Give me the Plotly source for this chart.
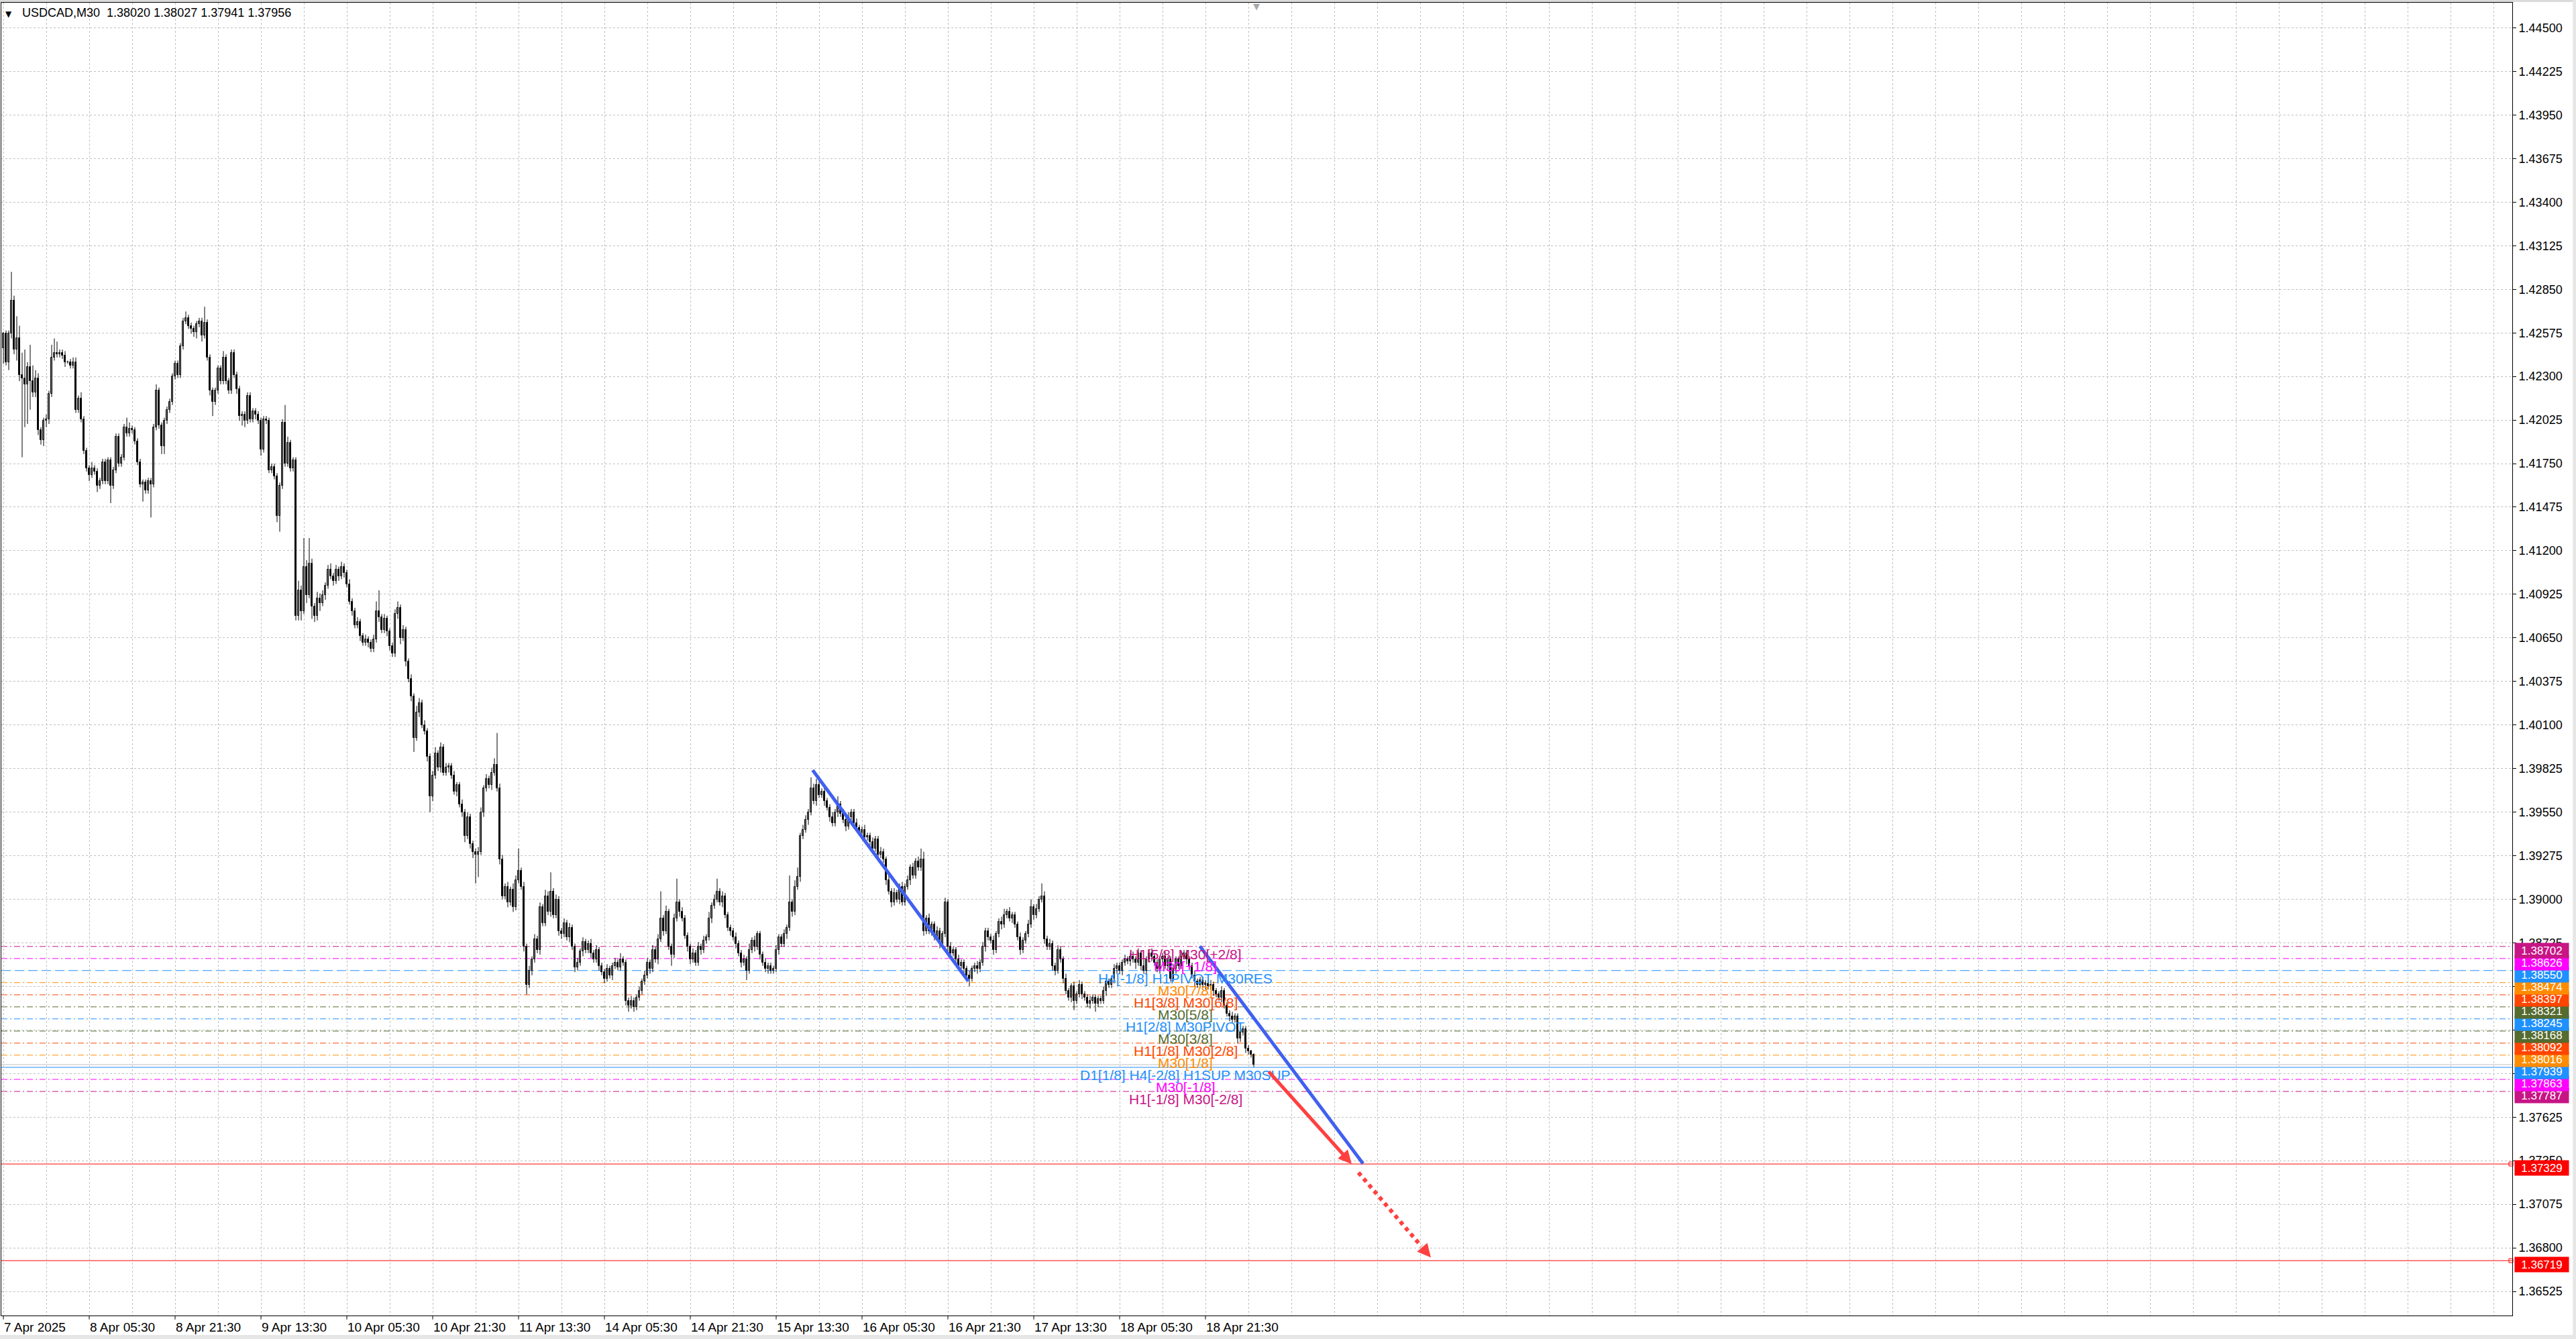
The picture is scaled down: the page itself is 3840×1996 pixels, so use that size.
import plotly.graph_objects as go

# ---------------- DATA ----------------
symbol_header = "USDCAD,M30  1.38020 1.38027 1.37941 1.37956"
first_open = 1.4248

closes = [
    1.4257, 1.4239, 1.4257, 1.4278, 1.4247, 1.4254, 1.4231, 1.4229, 1.4225, 1.4236, 1.4227, 1.4220, 1.4229, 1.4196, 1.4190, 1.4202,
    1.4203, 1.4219, 1.4242, 1.4245, 1.4244, 1.4245, 1.4243, 1.4239, 1.4239, 1.4237, 1.4239, 1.4209, 1.4216, 1.4203, 1.4183, 1.4172,
    1.4168, 1.4172, 1.4170, 1.4161, 1.4164, 1.4176, 1.4164, 1.4177, 1.4161, 1.4171, 1.4192, 1.4175, 1.4179, 1.4198, 1.4194, 1.4197,
    1.4196, 1.4189, 1.4176, 1.4162, 1.4163, 1.4158, 1.4164, 1.4162, 1.4198, 1.4221, 1.4199, 1.4186, 1.4202, 1.4209, 1.4214, 1.4230,
    1.4238, 1.4231, 1.4249, 1.4265, 1.4267, 1.4262, 1.4260, 1.4258, 1.4263, 1.4265, 1.4256, 1.4264, 1.4242, 1.4221, 1.4214, 1.4221,
    1.4235, 1.4227, 1.4242, 1.4227, 1.4221, 1.4245, 1.4231, 1.4222, 1.4205, 1.4206, 1.4202, 1.4218, 1.4203, 1.4208, 1.4206, 1.4202,
    1.4184, 1.4203, 1.4202, 1.4171, 1.4173, 1.4167, 1.4142, 1.4161, 1.4201, 1.4175, 1.4188, 1.4172, 1.4177, 1.4079, 1.4095, 1.4082,
    1.4110, 1.4092, 1.4112, 1.4085, 1.4079, 1.4090, 1.4087, 1.4092, 1.4098, 1.4108, 1.4104, 1.4101, 1.4108, 1.4104, 1.4110, 1.4106,
    1.4099, 1.4088, 1.4082, 1.4073, 1.4075, 1.4066, 1.4062, 1.4064, 1.4062, 1.4058, 1.4064, 1.4082, 1.4078, 1.4070, 1.4077, 1.4069,
    1.4060, 1.4055, 1.4080, 1.4084, 1.4065, 1.4070, 1.4050, 1.4039, 1.4028, 1.4002, 1.4018, 1.4024, 1.4010, 1.4006, 1.3990, 1.3965,
    1.3978, 1.3992, 1.3983, 1.3996, 1.3980, 1.3983, 1.3984, 1.3978, 1.3968, 1.3972, 1.3960, 1.3955, 1.3940, 1.3952, 1.3935, 1.3930,
    1.3928, 1.3930, 1.3955, 1.3970, 1.3976, 1.3972, 1.3980, 1.3985, 1.3970, 1.3925, 1.3902, 1.3908, 1.3898, 1.3906, 1.3895, 1.3912,
    1.3918, 1.3908, 1.3870, 1.3846, 1.3855, 1.3862, 1.3875, 1.3868, 1.3895, 1.3885, 1.3902, 1.3892, 1.3905, 1.3890, 1.3900, 1.3880,
    1.3878, 1.3885, 1.3876, 1.3882, 1.3870, 1.3857, 1.3860, 1.3867, 1.3873, 1.3868, 1.3872, 1.3866, 1.3862, 1.3868, 1.3858, 1.3854,
    1.3850, 1.3856, 1.3852, 1.3858, 1.3860, 1.3857, 1.3862, 1.3860, 1.3836, 1.3833, 1.3836, 1.3832, 1.3838, 1.3842, 1.3848, 1.3852,
    1.3860, 1.3856, 1.3868, 1.3862, 1.3875, 1.3888, 1.3880, 1.3892, 1.3870, 1.3865, 1.3888, 1.3898, 1.3892, 1.3888, 1.3877, 1.3870,
    1.3862, 1.3866, 1.3860, 1.3870, 1.3868, 1.3874, 1.3876, 1.3888, 1.3896, 1.3900, 1.3905, 1.3898, 1.3902, 1.3890, 1.3882, 1.3880,
    1.3876, 1.3872, 1.3866, 1.3860, 1.3862, 1.3855, 1.3868, 1.3874, 1.3870, 1.3878, 1.3865, 1.3860, 1.3856, 1.3858, 1.3855, 1.3856,
    1.3868, 1.3876, 1.3872, 1.3878, 1.3882, 1.3898, 1.3892, 1.3908, 1.3914, 1.3940, 1.3944, 1.3950, 1.3955, 1.3970, 1.3962, 1.3972,
    1.3966, 1.3968, 1.3962, 1.3958, 1.3952, 1.3948, 1.3955, 1.3960, 1.3954, 1.3950, 1.3946, 1.3952, 1.3955, 1.3948, 1.3945, 1.3942,
    1.3944, 1.3939, 1.3940, 1.3936, 1.3932, 1.3938, 1.3928, 1.3930, 1.3925, 1.3912, 1.3905, 1.3898, 1.3904, 1.3900, 1.3908, 1.3898,
    1.3908, 1.3912, 1.3920, 1.3915, 1.3924, 1.3920, 1.3925, 1.3880, 1.3888, 1.3880, 1.3884, 1.3876, 1.3880, 1.3872, 1.3878, 1.3898,
    1.3870, 1.3866, 1.3868, 1.3862, 1.3858, 1.3860, 1.3856, 1.3852, 1.3850, 1.3856, 1.3858, 1.3856, 1.3860, 1.3870, 1.3880, 1.3876,
    1.3874, 1.3868, 1.3878, 1.3886, 1.3884, 1.3890, 1.3892, 1.3888, 1.3890, 1.3884, 1.3876, 1.3868, 1.3874, 1.3878, 1.3884, 1.3895,
    1.3890, 1.3894, 1.3900, 1.3902, 1.3875, 1.3870, 1.3872, 1.3858, 1.3855, 1.3868, 1.3862, 1.3850, 1.3842, 1.3838, 1.3845, 1.3836,
    1.3840, 1.3846, 1.3840, 1.3838, 1.3834, 1.3836, 1.3838, 1.3834, 1.3837, 1.3836, 1.3842, 1.3848, 1.3846, 1.3850, 1.3856, 1.3858,
    1.3855, 1.3860, 1.3862, 1.3861, 1.3864, 1.3862, 1.3860, 1.3866, 1.3858, 1.3855, 1.3862, 1.3866, 1.3864, 1.3860, 1.3856, 1.3862,
    1.3864, 1.3858, 1.3862, 1.3850, 1.3856, 1.3862, 1.3858, 1.3864, 1.3866, 1.3862, 1.3858, 1.3852, 1.3848, 1.3846, 1.3849, 1.3846,
    1.3847, 1.3845, 1.3846, 1.3842, 1.3840, 1.3838, 1.3842, 1.3833, 1.3828, 1.3826, 1.3824, 1.3826, 1.3812, 1.3816, 1.3818, 1.3806,
    1.3804, 1.38020, 1.37956,
]

# upper / lower wick length beyond the body, in pips
wick_up = [
    1, 2, 2, 18, 3, 14, 8, 14, 18, 3, 14, 10, 5, 3, 2, 2,
    3, 2, 8, 9, 7, 2, 2, 3, 1, 2, 3, 3, 2, 4, 2, 2,
    2, 4, 2, 2, 2, 2, 2, 2, 2, 2, 2, 2, 2, 2, 6, 4,
    2, 2, 2, 2, 2, 2, 2, 2, 2, 4, 2, 2, 2, 2, 2, 2,
    2, 2, 2, 2, 4, 2, 2, 2, 2, 2, 2, 10, 2, 2, 2, 2,
    2, 2, 4, 2, 2, 2, 2, 2, 2, 2, 2, 2, 2, 2, 2, 2,
    2, 2, 2, 2, 2, 2, 2, 2, 2, 11, 4, 2, 2, 2, 6, 3,
    18, 4, 16, 3, 2, 4, 3, 3, 2, 3, 4, 2, 3, 2, 3, 2,
    2, 3, 2, 2, 3, 2, 2, 3, 2, 2, 3, 6, 13, 2, 3, 2,
    2, 2, 3, 4, 2, 3, 2, 2, 3, 2, 4, 3, 2, 3, 2, 2,
    3, 4, 2, 3, 2, 3, 2, 2, 3, 2, 2, 3, 2, 3, 2, 2,
    2, 3, 3, 2, 3, 2, 3, 4, 20, 3, 3, 2, 3, 2, 4, 3,
    14, 2, 3, 2, 3, 2, 3, 2, 3, 2, 4, 3, 12, 2, 3, 2,
    2, 3, 2, 3, 2, 2, 3, 2, 3, 2, 2, 3, 2, 3, 2, 2,
    2, 3, 2, 2, 3, 2, 4, 2, 2, 2, 3, 2, 2, 3, 2, 3,
    3, 2, 3, 2, 3, 17, 2, 4, 2, 2, 3, 15, 2, 3, 2, 2,
    2, 3, 2, 3, 2, 3, 2, 4, 2, 3, 8, 2, 3, 2, 2, 2,
    2, 3, 2, 2, 3, 2, 4, 2, 3, 2, 2, 2, 3, 2, 2, 2,
    3, 2, 2, 3, 2, 17, 2, 4, 6, 2, 3, 3, 2, 7, 3, 4,
    3, 2, 3, 2, 2, 3, 2, 5, 2, 3, 2, 3, 2, 2, 3, 2,
    2, 3, 2, 2, 3, 2, 2, 3, 2, 2, 3, 2, 3, 2, 2, 3,
    2, 3, 2, 3, 2, 3, 7, 5, 2, 3, 2, 2, 3, 2, 2, 3,
    2, 3, 2, 2, 3, 2, 2, 2, 3, 2, 2, 3, 2, 3, 2, 2,
    2, 3, 2, 2, 3, 4, 2, 3, 2, 2, 2, 3, 2, 2, 3, 5,
    2, 3, 2, 8, 3, 2, 3, 2, 2, 3, 2, 2, 3, 2, 2, 3,
    2, 3, 2, 2, 2, 3, 2, 2, 2, 2, 3, 2, 2, 2, 3, 2,
    2, 2, 3, 2, 2, 3, 2, 3, 2, 4, 2, 2, 3, 2, 2, 2,
    2, 3, 2, 2, 3, 2, 2, 3, 2, 2, 2, 2, 3, 2, 2, 2,
    2, 2, 3, 2, 2, 2, 3, 2, 2, 2, 3, 2, 2, 3, 2, 2,
    2, 1, 0.7,
]
wick_dn = [
    10, 2, 5, 3, 3, 7, 4, 50, 27, 25, 18, 3, 3, 3, 3, 4,
    4, 3, 2, 2, 2, 2, 2, 3, 1, 2, 2, 2, 2, 2, 2, 2,
    4, 2, 2, 4, 2, 2, 2, 2, 11, 2, 2, 2, 2, 2, 2, 2,
    2, 2, 2, 2, 11, 2, 2, 21, 2, 2, 2, 5, 5, 2, 2, 2,
    2, 2, 2, 2, 2, 2, 3, 3, 4, 2, 4, 2, 2, 3, 9, 2,
    2, 2, 2, 2, 2, 2, 2, 3, 3, 6, 4, 2, 2, 2, 3, 2,
    4, 2, 2, 2, 2, 2, 4, 10, 2, 2, 2, 2, 2, 3, 3, 6,
    2, 5, 2, 8, 4, 3, 5, 2, 3, 2, 2, 3, 2, 3, 2, 3,
    2, 2, 3, 2, 2, 3, 2, 2, 3, 2, 2, 2, 3, 2, 2, 3,
    3, 2, 2, 3, 4, 2, 3, 2, 3, 9, 2, 3, 2, 2, 3, 10,
    3, 2, 2, 3, 2, 2, 3, 2, 2, 3, 2, 3, 4, 2, 3, 4,
    18, 14, 2, 3, 2, 2, 3, 2, 2, 3, 2, 2, 3, 2, 3, 2,
    2, 2, 3, 6, 2, 3, 2, 2, 3, 2, 2, 2, 3, 2, 2, 3,
    3, 2, 2, 3, 2, 3, 2, 2, 3, 2, 2, 3, 2, 2, 3, 2,
    3, 2, 2, 3, 2, 2, 2, 2, 3, 4, 2, 3, 2, 2, 2, 2,
    2, 3, 2, 2, 3, 2, 3, 2, 2, 7, 2, 2, 3, 2, 2, 3,
    3, 2, 2, 2, 3, 2, 2, 2, 3, 2, 2, 2, 3, 2, 2, 3,
    2, 3, 2, 3, 2, 6, 2, 2, 3, 2, 3, 2, 2, 3, 2, 2,
    2, 3, 2, 2, 3, 2, 3, 2, 2, 3, 2, 2, 3, 2, 2, 3,
    2, 2, 3, 2, 3, 2, 2, 3, 2, 2, 3, 2, 2, 3, 2, 2,
    3, 2, 2, 3, 2, 2, 3, 2, 2, 3, 2, 3, 2, 2, 3, 2,
    2, 2, 3, 2, 2, 2, 2, 3, 2, 2, 3, 2, 2, 3, 2, 2,
    3, 2, 2, 3, 2, 2, 3, 2, 5, 2, 2, 3, 2, 2, 3, 2,
    2, 3, 2, 2, 3, 2, 2, 2, 3, 2, 2, 3, 2, 2, 2, 2,
    3, 2, 2, 2, 3, 2, 2, 3, 3, 2, 2, 3, 2, 2, 3, 6,
    2, 2, 3, 2, 2, 3, 2, 5, 2, 2, 2, 3, 2, 2, 2, 3,
    2, 3, 2, 2, 3, 2, 4, 2, 3, 2, 2, 2, 3, 2, 2, 3,
    2, 2, 3, 2, 2, 3, 2, 2, 2, 3, 2, 2, 3, 2, 2, 2,
    3, 2, 2, 3, 2, 2, 3, 2, 2, 3, 2, 2, 3, 2, 2, 3,
    2, 2, 1.5,
]

time_labels = ["7 Apr 2025", "8 Apr 05:30", "8 Apr 21:30", "9 Apr 13:30", "10 Apr 05:30",
               "10 Apr 21:30", "11 Apr 13:30", "14 Apr 05:30", "14 Apr 21:30", "15 Apr 13:30",
               "16 Apr 05:30", "16 Apr 21:30", "17 Apr 13:30", "18 Apr 05:30", "18 Apr 21:30"]
time_label_bars = [0, 32, 64, 96, 128, 160, 192, 224, 256, 288, 320, 352, 384, 416, 448]

levels = [1.38702, 1.38626, 1.38550, 1.38474, 1.38397, 1.38321, 1.38245,
          1.38168, 1.38092, 1.38016, 1.37939, 1.37863, 1.37787]
level_names = ["H1[5/8] M30[+2/8]", "M30[+1/8]", "H4[-1/8] H1PIVOT M30RES", "M30[7/8]",
               "H1[3/8] M30[6/8]", "M30[5/8]", "H1[2/8] M30PIVOT", "M30[3/8]",
               "H1[1/8] M30[2/8]", "M30[1/8]", "D1[1/8] H4[-2/8] H1SUP M30SUP",
               "M30[-1/8]", "H1[-1/8] M30[-2/8]"]
level_colors = ["#C71585", "#FF00FF", "#1E90FF", "#FF8C00", "#FF4500", "#556B2F", "#1E90FF",
                "#556B2F", "#FF4500", "#FF8C00", "#1E90FF", "#FF00FF", "#C71585"]
level_styles = ["dashdot", "dashdot", "dash", "dashdot", "dashdot", "dashdot", "dashdot",
                "dashdot", "dashdot", "dashdot", "solid", "dashdot", "dashdot"]
level_label_bar = 440.5

targets = [1.37329, 1.36719]

trend_line_1 = [(301.6, 1.39815), (359.6, 1.38483)]
trend_line_2 = [(445.9, 1.38704), (506.7, 1.37332)]
red_arrow = [(471.25, 1.37918), (502.5, 1.37329)]
red_dotted_arrow = [(505.0, 1.37275), (532.0, 1.36739)]

# ---------------- STYLE ----------------
FONT = "Liberation Sans, Arial, sans-serif"
GRID = "#C0C0C0"
BLUE_TL = "#4060F0"
RED_AR = "#FF4040"
DASHES = {"dashdot": "9px,4px,2px,4px", "dash": "14px,6px", "solid": "solid"}
X_RANGE = [-0.75, 935.0]
Y_RANGE = [1.363726, 1.446592]

n = len(closes)
assert len(wick_up) == n and len(wick_dn) == n
opens = [first_open] + closes[:-1]
highs = [max(o, c) + u * 1e-4 for o, c, u in zip(opens, closes, wick_up)]
lows = [min(o, c) - d * 1e-4 for o, c, d in zip(opens, closes, wick_dn)]

fig = go.Figure()

# wicks
wx, wy = [], []
for i in range(n):
    wx += [i, i, None]
    wy += [lows[i], highs[i], None]
fig.add_trace(go.Scatter(x=wx, y=wy, mode="lines", line=dict(color="black", width=1),
                         hoverinfo="skip"))

# bodies
bx, bb, bh, ux, ub, uh = [], [], [], [], [], []
for i in range(n):
    o, c = opens[i], closes[i]
    if c >= o:
        ux.append(i); ub.append(o); uh.append(max(c - o, 0.000004))
    else:
        bx.append(i); bb.append(c); bh.append(o - c)
fig.add_trace(go.Bar(x=ux, y=uh, base=ub, width=0.5,
                     marker=dict(color="white", line=dict(color="black", width=1)),
                     hoverinfo="skip"))
fig.add_trace(go.Bar(x=bx, y=bh, base=bb, width=0.5,
                     marker=dict(color="black", line=dict(color="black", width=1)),
                     hoverinfo="skip"))

shapes = []
annotations = []

# level lines + texts
for lv, name, col, sty in zip(levels, level_names, level_colors, level_styles):
    shapes.append(dict(type="line", xref="paper", yref="y", x0=0, x1=1, y0=lv, y1=lv,
                       layer="between", line=dict(color=col, width=1, dash=DASHES[sty])))
    annotations.append(dict(x=level_label_bar, y=lv, xref="x", yref="y", text=name,
                            showarrow=False, xanchor="center", yanchor="top", yshift=2,
                            font=dict(family=FONT, size=21, color=col)))

# bid line
shapes.append(dict(type="line", xref="paper", yref="y", x0=0, x1=1, y0=closes[-1], y1=closes[-1],
                   layer="between", line=dict(color="#C0C0C0", width=1)))

# target lines
for t in targets:
    shapes.append(dict(type="line", xref="paper", yref="y", x0=0, x1=1, y0=t, y1=t,
                       layer="between", line=dict(color="#FF0000", width=1)))
fig.add_trace(go.Scatter(x=[X_RANGE[1] - 0.5] * len(targets), y=targets, mode="markers",
                         marker=dict(symbol="square-open", size=6, color="#FF0000",
                                     line=dict(width=1, color="#FF0000")),
                         cliponaxis=False, hoverinfo="skip"))

# trend lines
for tl in (trend_line_1, trend_line_2):
    shapes.append(dict(type="line", xref="x", yref="y", x0=tl[0][0], y0=tl[0][1],
                       x1=tl[1][0], y1=tl[1][1], layer="above",
                       line=dict(color=BLUE_TL, width=5)))

# red solid arrow
annotations.append(dict(x=red_arrow[1][0], y=red_arrow[1][1], ax=red_arrow[0][0], ay=red_arrow[0][1],
                        xref="x", yref="y", axref="x", ayref="y", text="", showarrow=True,
                        arrowhead=2, arrowsize=0.8, arrowwidth=5, arrowcolor=RED_AR, standoff=0))

# red dotted arrow
(dx0, dy0), (dx1, dy1) = red_dotted_arrow
f = 0.87
hx, hy = dx0 + (dx1 - dx0) * f, dy0 + (dy1 - dy0) * f
shapes.append(dict(type="line", xref="x", yref="y", x0=dx0, y0=dy0, x1=hx, y1=hy, layer="above",
                   line=dict(color=RED_AR, width=6, dash="dot")))
annotations.append(dict(x=dx1, y=dy1, ax=hx, ay=hy, xref="x", yref="y", axref="x", ayref="y",
                        text="", showarrow=True, arrowhead=2, arrowsize=0.8, arrowwidth=5,
                        arrowcolor=RED_AR, standoff=0))

# right-hand price labels (lowest first so higher ones are drawn on top)
tag_items = [(t, "#FF0000") for t in targets] + list(zip(levels, level_colors))
tag_items.sort(key=lambda p: p[0])
for price, col in tag_items:
    annotations.append(dict(x=1, y=price, xref="paper", yref="y", xanchor="left", yanchor="middle",
                            xshift=3, yshift=-6, width=80, height=22, align="center",
                            text=f"{price:.5f}", showarrow=False, bgcolor=col, borderpad=0,
                            font=dict(family=FONT, size=17, color="white")))

# x time labels (left aligned at the tick)
for b, lab in zip(time_label_bars, time_labels):
    annotations.append(dict(x=b, y=0, xref="x", yref="paper", xanchor="left", yanchor="top",
                            yshift=-5, xshift=-1, text=lab, showarrow=False,
                            font=dict(family=FONT, size=19, color="black")))
    shapes.append(dict(type="line", xref="x", yref="paper", x0=b, x1=b, y0=0, y1=-0.003,
                       line=dict(color="black", width=1)))

# header
annotations.append(dict(x=0, y=1, xref="paper", yref="paper", xanchor="left", yanchor="top",
                        xshift=4, yshift=-8, text="▼", showarrow=False,
                        font=dict(family="DejaVu Sans", size=12, color="black")))
annotations.append(dict(x=0, y=1, xref="paper", yref="paper", xanchor="left", yanchor="top",
                        xshift=29, yshift=-3, text=symbol_header, showarrow=False,
                        font=dict(family=FONT, size=18, color="black")))
# chart shift marker
annotations.append(dict(x=n, y=1, xref="x", yref="paper", xanchor="center", yanchor="top",
                        yshift=4, text="▼", showarrow=False,
                        font=dict(family="DejaVu Sans", size=13, color="#A8A8A8")))

# window frame bands
shapes += [
    dict(type="rect", xref="paper", yref="paper", x0=-0.01, x1=1.03, y0=1.0005, y1=1.01,
         fillcolor="#DADADA", line=dict(width=0), layer="above"),
    dict(type="rect", xref="paper", yref="paper", x0=1.0241, x1=1.03, y0=-0.03, y1=1.01,
         fillcolor="#E6E6E6", line=dict(width=0), layer="above"),
    dict(type="rect", xref="paper", yref="paper", x0=-0.01, x1=1.03, y0=-0.03, y1=-0.0148,
         fillcolor="#E6E6E6", line=dict(width=0), layer="above"),
]

fig.update_layout(
    width=3840, height=1996,
    margin=dict(l=2, r=95, t=4, b=35),
    plot_bgcolor="white", paper_bgcolor="white",
    showlegend=False, barmode="overlay", bargap=0, hovermode=False,
    font=dict(family=FONT, size=17, color="black"),
    shapes=shapes, annotations=annotations,
    xaxis=dict(range=X_RANGE, showticklabels=False, ticks="",
               tickmode="linear", tick0=0, dtick=16,
               showgrid=True, gridcolor=GRID, griddash="3px,3px", gridwidth=1,
               showline=True, linecolor="black", linewidth=1, mirror=True,
               zeroline=False, fixedrange=True),
    yaxis=dict(range=Y_RANGE, side="right", tickmode="linear", tick0=1.36525, dtick=0.00275,
               tickformat=".5f", ticks="outside", ticklen=5, tickcolor="black",
               tickfont=dict(family=FONT, size=18, color="black"),
               showgrid=True, gridcolor=GRID, griddash="3px,3px", gridwidth=1,
               showline=True, linecolor="black", linewidth=1, mirror=True,
               zeroline=False, fixedrange=True),
)

fig.write_html("out.html", config={"displayModeBar": False},
               post_script="document.body.style.margin='0';document.body.style.overflow='hidden';")
